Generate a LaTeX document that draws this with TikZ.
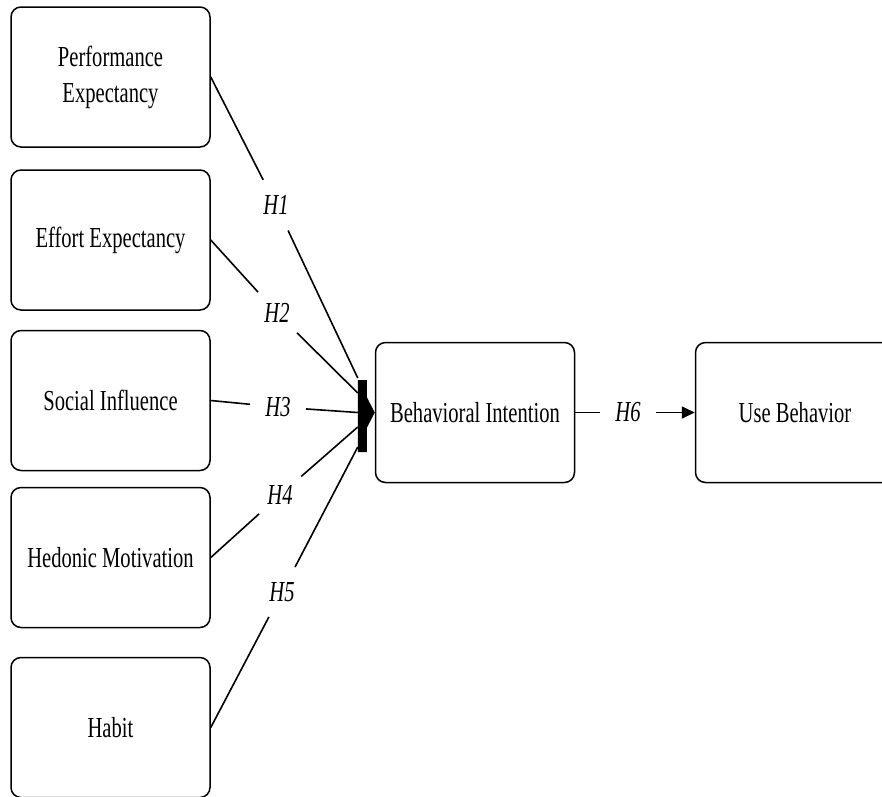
\documentclass[tikz,border=0pt]{standalone}
\usepackage{fontspec}
\setmainfont{Liberation Serif}[FakeStretch=0.71]
\usepackage{tikz}
\usetikzlibrary{arrows.meta}
\usetikzlibrary{calc}
\tikzset{box/.style = {draw, rounded corners = 10pt, line width = 1.5pt, minimum width = 199pt, minimum height = 140pt, align = center, font = \fontsize{29}{36}\selectfont}}
\tikzset{hyp/.style = {circle, inner sep = 0pt, minimum size = 56pt, font = \fontsize{29}{36}\selectfont\itshape}}
\tikzset{link/.style = {line width = 1.6pt}}

\begin{document}
\begin{tikzpicture}[x = 1pt, y = -1pt]
    \useasboundingbox (0, 0) rectangle (882, 796);

    % constructs
    \node [box] (pe) at (110.5, 77) {Performance\\Expectancy};
    \node [box] (ee) at (110.5, 240) {Effort Expectancy};
    \node [box] (si) at (110.5, 400.5) {Social Influence};
    \node [box] (hm) at (110.5, 557.5) {Hedonic Motivation};
    \node [box] (ha) at (110.5, 727.5) {Habit};
    \node [box] (bi) at (475, 412.5) {Behavioral Intention};
    \node [box] (ub) at (795, 412.5) {Use Behavior};

    % hypotheses
    \node [hyp] (h1) at (276, 205) {H1};
    \node [hyp] (h2) at (277, 313) {H2};
    \node [hyp] (h3) at (278, 407) {H3};
    \node [hyp] (h4) at (280, 495) {H4};
    \node [hyp] (h5) at (282, 592) {H5};
    \node [hyp] (h6) at (628, 412.5) {H6};

    \coordinate (t1) at ([xshift=-17pt, yshift=34.5pt] bi.west);
    \coordinate (t2) at ([xshift=-17pt, yshift=19.5pt] bi.west);
    \coordinate (t3) at ([xshift=-17pt] bi.west);
    \coordinate (t4) at ([xshift=-17pt, yshift=-14.5pt] bi.west);
    \coordinate (t5) at ([xshift=-17pt, yshift=-34.5pt] bi.west);

    \draw [link] (pe.east) -- (h1) -- (t1);
    \draw [link] (ee.east) -- (h2) -- (t2);
    \draw [link] (si.east) -- (h3) -- (t3);
    \draw [link] (hm.east) -- (h4) -- (t4);
    \draw [link] (ha.east) -- (h5) -- (t5);

    % merged head
    \fill ($(bi.west) + (-17, -32.5)$) -- ++(9, 0) -- ++(0, 17) -- (bi.west)
      -- ++(-8, 15.5) -- ++(0, 24) -- ++(-9, 0) -- cycle;

    \draw [link] (bi) -- (h6);
    \draw [link, -{Triangle[length=13pt, width=12pt]}] (h6) -- (ub);
\end{tikzpicture}
\end{document}
